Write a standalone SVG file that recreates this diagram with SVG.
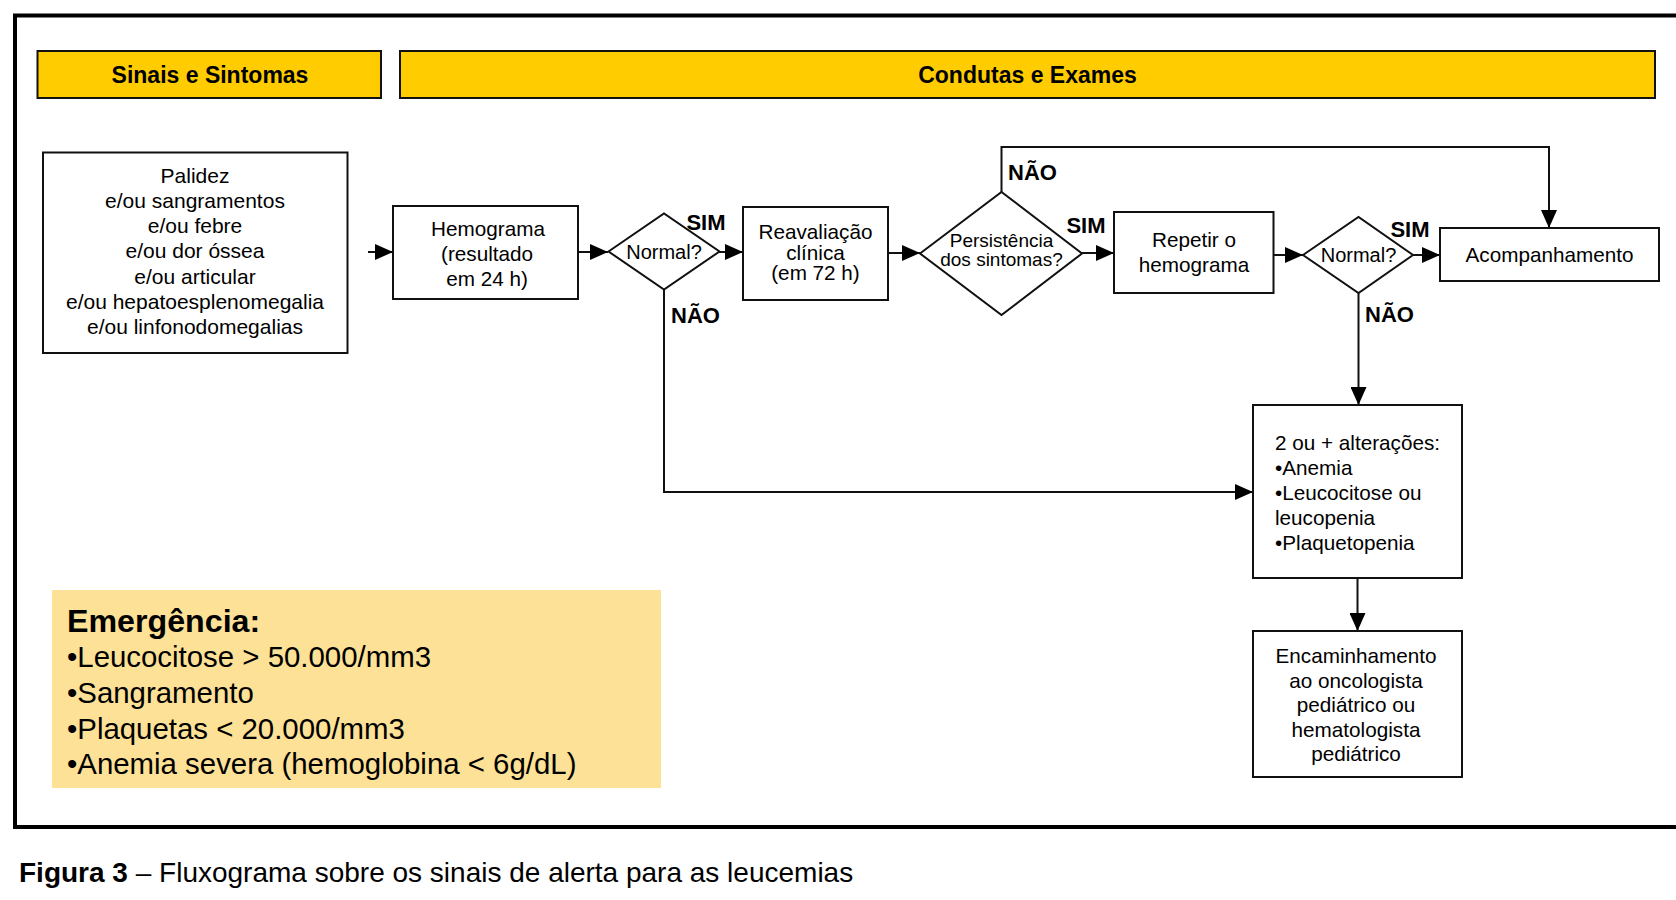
<svg xmlns="http://www.w3.org/2000/svg" width="1676" height="900" viewBox="0 0 1676 900">
<style>
text{font-family:"Liberation Sans",Arial,sans-serif;fill:#000}
.box{fill:#fff;stroke:#111;stroke-width:2}
.hdr{fill:#FFCC00;stroke:#111;stroke-width:2}
.hdrt{font-weight:bold;font-size:23px;text-anchor:middle}
.t{font-size:20.7px;text-anchor:middle}
.tl{font-size:20.7px}
.lbl{font-weight:bold;font-size:22px}
.con{fill:none;stroke:#111;stroke-width:2;marker-end:url(#ah)}
.em{font-size:29.4px}
</style>
<defs>
<marker id="ah" markerUnits="userSpaceOnUse" markerWidth="18" markerHeight="16" refX="18" refY="8" orient="auto">
<path d="M0,0 L18,8 L0,16 z" fill="#000"/>
</marker>
</defs>
<rect width="1676" height="900" fill="#fff"/>
<rect x="15" y="15.5" width="1700" height="811.5" fill="none" stroke="#000" stroke-width="4"/>

<g id="hdr-sinais">
<rect class="hdr" x="37.5" y="51" width="343.5" height="47"/>
<text class="hdrt" x="210" y="83">Sinais e Sintomas</text>
</g>
<g id="hdr-condutas">
<rect class="hdr" x="400" y="51" width="1255" height="47"/>
<text class="hdrt" x="1027.5" y="83">Condutas e Exames</text>
</g>

<g id="connectors">
<path class="con" d="M368,252 L393,252"/>
<path class="con" d="M578,252 L608,252"/>
<path class="con" d="M719,252 L743,252"/>
<path class="con" d="M664,289.5 L664,492 L1253,492"/>
<path class="con" d="M888,253 L920,253"/>
<path class="con" d="M1001.5,192 L1001.5,147 L1549,147 L1549,228"/>
<path class="con" d="M1082,253 L1114,253"/>
<path class="con" d="M1273.5,255 L1303,255"/>
<path class="con" d="M1413,255 L1440,255"/>
<path class="con" d="M1358.5,293 L1358.5,405"/>
<path class="con" d="M1357.5,578 L1357.5,631"/>
<text class="lbl" x="706" y="230" text-anchor="middle">SIM</text>
<text class="lbl" x="671" y="323">NÃO</text>
<text class="lbl" x="1008" y="180">NÃO</text>
<text class="lbl" x="1086" y="233" text-anchor="middle">SIM</text>
<text class="lbl" x="1410" y="237" text-anchor="middle">SIM</text>
<text class="lbl" x="1365" y="322">NÃO</text>
</g>

<g id="n-palidez">
<rect class="box" x="43" y="152.5" width="304.5" height="200.5"/>
<text class="t" x="195" y="182.5" style="font-size:21px">Palidez</text>
<text class="t" x="195" y="207.8" style="font-size:21px">e/ou sangramentos</text>
<text class="t" x="195" y="233.1" style="font-size:21px">e/ou febre</text>
<text class="t" x="195" y="258.4" style="font-size:21px">e/ou dor óssea</text>
<text class="t" x="195" y="283.7" style="font-size:21px">e/ou articular</text>
<text class="t" x="195" y="309" style="font-size:21px">e/ou hepatoesplenomegalia</text>
<text class="t" x="195" y="334.3" style="font-size:21px">e/ou linfonodomegalias</text>
</g>

<g id="n-hemograma">
<rect class="box" x="393" y="206" width="185" height="93"/>
<text class="t" x="488" y="235.5">Hemograma</text>
<text class="t" x="487" y="260.5">(resultado</text>
<text class="t" x="487" y="285.5">em 24 h)</text>
</g>

<g id="n-normal1">
<polygon class="box" points="608.5,251.5 664,213.5 719.5,251.5 664,289.5"/>
<text class="t" x="664" y="259" style="font-size:20px">Normal?</text>
</g>

<g id="n-reaval">
<rect class="box" x="743" y="207" width="145" height="93"/>
<text class="t" x="815.5" y="239">Reavaliação</text>
<text class="t" x="815.5" y="259.5">clínica</text>
<text class="t" x="815.5" y="280">(em 72 h)</text>
</g>

<g id="n-persist">
<polygon class="box" points="920,253.5 1001.5,192 1082,253.5 1001.5,315"/>
<text class="t" x="1001.5" y="247.3" style="font-size:19px">Persistência</text>
<text class="t" x="1001.5" y="266.3" style="font-size:19px">dos sintomas?</text>
</g>

<g id="n-repetir">
<rect class="box" x="1114" y="212" width="159.5" height="81"/>
<text class="t" x="1194" y="247">Repetir o</text>
<text class="t" x="1194" y="272">hemograma</text>
</g>

<g id="n-normal2">
<polygon class="box" points="1303,255 1358.5,217 1413,255 1358.5,293"/>
<text class="t" x="1358.5" y="262" style="font-size:20px">Normal?</text>
</g>

<g id="n-acomp">
<rect class="box" x="1440" y="228" width="219" height="53"/>
<text class="t" x="1549.5" y="262">Acompanhamento</text>
</g>

<g id="n-alteracoes">
<rect class="box" x="1253" y="405" width="209" height="173"/>
<text class="tl" x="1275" y="449.5">2 ou + alterações:</text>
<text class="tl" x="1275" y="474.5">•Anemia</text>
<text class="tl" x="1275" y="499.5">•Leucocitose ou</text>
<text class="tl" x="1275" y="524.5">leucopenia</text>
<text class="tl" x="1275" y="549.5">•Plaquetopenia</text>
</g>

<g id="n-encaminhamento">
<rect class="box" x="1253" y="631" width="209" height="146"/>
<text class="t" x="1356" y="663">Encaminhamento</text>
<text class="t" x="1356" y="687.5">ao oncologista</text>
<text class="t" x="1356" y="712">pediátrico ou</text>
<text class="t" x="1356" y="736.5">hematologista</text>
<text class="t" x="1356" y="761">pediátrico</text>
</g>

<g id="n-emergencia">
<rect x="52" y="590" width="609" height="198" fill="#FDE196"/>
<text x="67" y="632" style="font-size:32.2px;font-weight:bold">Emergência:</text>
<text class="em" x="67" y="667">•Leucocitose &gt; 50.000/mm3</text>
<text class="em" x="67" y="703">•Sangramento</text>
<text class="em" x="67" y="738.5">•Plaquetas &lt; 20.000/mm3</text>
<text class="em" x="67" y="774">•Anemia severa (hemoglobina &lt; 6g/dL)</text>
</g>

<text x="19" y="882" style="font-size:28px"><tspan font-weight="bold">Figura 3</tspan> – Fluxograma sobre os sinais de alerta para as leucemias</text>
</svg>
